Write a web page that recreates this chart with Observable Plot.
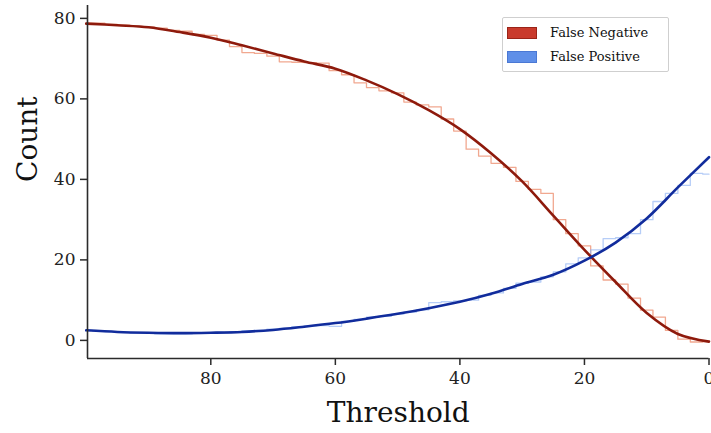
<!DOCTYPE html>
<html>
<head>
<meta charset="utf-8">
<script src="https://cdn.jsdelivr.net/npm/d3@7"></script>
<script src="https://cdn.jsdelivr.net/npm/@observablehq/plot@0.6"></script>
<style>
  html, body { margin: 0; padding: 0; background: #fff; }
  #wrap { position: relative; width: 711px; height: 433px; overflow: hidden; }
  #legend { position: absolute; left: 502px; top: 17px; width: 165px; height: 53px;
    border: 1.5px solid #cfcfcf; border-radius: 2px; background: #fff;
    font-family: "DejaVu Serif", serif; font-size: 13px; color: #111; }
  .row { position: absolute; left: 4px; display: flex; align-items: center; }
  .patch { width: 30px; height: 12px; margin-right: 13px; box-sizing: border-box; }
</style>
</head>
<body>
<div id="wrap"><div id="chart"></div><div id="legend"></div></div>
<script>
// categories
const seriesNames = ["False Negative", "False Positive"];
const xTicks = [80, 60, 40, 20, 0];
const yTicks = [0, 20, 40, 60, 80];
const xDomain = [99.8, 0];
const yDomain = [-4.5, 83.2];

// smooth fitted curves (threshold every 5)
const smoothX = [100, 95, 90, 85, 80, 75, 70, 65, 60, 55, 50, 45, 40, 35, 30, 25, 20, 15, 10, 5, 0];
const fnSmooth = [78.7, 78.3, 77.8, 76.6, 75.2, 73.3, 71.3, 69.3, 67.5, 64.6, 61.2, 57.2, 52.5, 46.5, 39.5, 31.0, 22.5, 14.5, 6.8, 1.6, -0.3];
const fpSmooth = [2.5, 2.1, 1.9, 1.8, 1.9, 2.1, 2.6, 3.4, 4.3, 5.4, 6.6, 8.0, 9.6, 11.6, 14.0, 16.3, 19.8, 24.3, 30.3, 38.0, 45.5];

// raw (stepped) counts (threshold every 2)
const rawX = [100, 98, 96, 94, 92, 90, 88, 86, 84, 82, 80, 78, 76, 74, 72, 70, 68, 66, 64, 62, 60, 58, 56, 54, 52, 50, 48, 46, 44, 42, 40, 38, 36, 34, 32, 30, 28, 26, 24, 22, 20, 18, 16, 14, 12, 10, 8, 6, 4, 2, 0];
const fnRaw = [78.8, 78.8, 78.5, 78.3, 78.0, 77.8, 77.6, 77.0, 76.8, 76.0, 75.8, 74.6, 73.0, 71.5, 71.3, 70.6, 69.2, 69.1, 69.0, 68.9, 67.0, 66.0, 64.0, 62.8, 62.0, 61.5, 59.2, 58.5, 58.0, 55.0, 52.0, 47.5, 45.8, 44.0, 43.0, 39.5, 37.5, 36.5, 30.0, 26.5, 23.5, 18.5, 15.0, 14.0, 10.5, 7.5, 5.8, 2.5, 0.3, -0.4, -0.3];
const fpRaw = [2.5, 2.4, 2.2, 2.0, 1.9, 1.8, 1.6, 1.6, 1.6, 1.8, 1.9, 2.0, 2.1, 2.4, 2.5, 2.8, 3.0, 3.4, 3.6, 3.7, 3.5, 4.7, 5.2, 5.8, 6.0, 6.5, 7.0, 7.6, 9.4, 9.6, 9.8, 10.0, 11.2, 11.8, 12.9, 14.2, 14.5, 15.8, 17.0, 19.0, 20.5, 22.5, 25.3, 25.5, 26.5, 30.0, 34.5, 36.5, 38.5, 41.5, 41.3];

const smoothColors = ["#8e1a0c", "#112c9c"];
const rawColors = ["#ea7a55", "#8fb2f2"];
const patchFill = ["#c93a2c", "#5f8fe8"];
const patchEdge = ["#9a2418", "#4a78d4"];

const smooth = [];
smoothX.forEach((x, i) => {
  smooth.push({x, y: fnSmooth[i], s: seriesNames[0]});
});
smoothX.forEach((x, i) => {
  smooth.push({x, y: fpSmooth[i], s: seriesNames[1]});
});
const raw = [];
rawX.forEach((x, i) => raw.push({x, y: fnRaw[i], s: seriesNames[0]}));
rawX.forEach((x, i) => raw.push({x, y: fpRaw[i], s: seriesNames[1]}));

const spine = "#2b2b2b";
const chart = Plot.plot({
  width: 711,
  height: 433,
  marginLeft: 87,
  marginRight: 2.5,
  marginTop: 5,
  marginBottom: 75,
  style: { fontFamily: "DejaVu Serif, serif", fontSize: "17px", color: "#222", background: "#fff" },
  x: { domain: xDomain, ticks: xTicks, tickSize: 7, tickPadding: 6, label: null },
  y: { domain: yDomain, ticks: yTicks, tickSize: 7, tickPadding: 5, label: null },
  color: { domain: seriesNames, range: smoothColors },
  marks: [
    Plot.line(raw, { x: "x", y: "y", z: "s", stroke: d => rawColors[seriesNames.indexOf(d.s)], strokeWidth: 1.3, strokeOpacity: 0.65, curve: "step" }),
    Plot.line(smooth, { x: "x", y: "y", z: "s", stroke: d => smoothColors[seriesNames.indexOf(d.s)], strokeWidth: 2.6, curve: "catmull-rom" }),
    Plot.ruleX([xDomain[0]], { stroke: spine, strokeWidth: 1.6 }),
    Plot.ruleY([yDomain[0]], { stroke: spine, strokeWidth: 1.6 }),
    Plot.axisX({ ticks: xTicks, tickSize: 7, tickPadding: 6, stroke: spine, strokeWidth: 1.5, label: null, fill: "#222" }),
    Plot.axisY({ ticks: yTicks, tickSize: 7, tickPadding: 5, stroke: spine, strokeWidth: 1.5, label: null, fill: "#222" }),
    Plot.text(["Threshold"], { frameAnchor: "bottom", dy: 63, fontSize: 28, fill: "#111" }),
    Plot.text(["Count"], { frameAnchor: "left", dx: -59, rotate: -90, fontSize: 28, fill: "#111" })
  ]
});
document.getElementById("chart").appendChild(chart);

const legend = document.getElementById("legend");
seriesNames.forEach((name, i) => {
  const row = document.createElement("div");
  row.className = "row";
  row.style.top = (i === 0 ? 7 : 31) + "px";
  const p = document.createElement("div");
  p.className = "patch";
  p.style.background = patchFill[i];
  p.style.border = "1.5px solid " + patchEdge[i];
  const t = document.createElement("span");
  t.textContent = name;
  row.appendChild(p);
  row.appendChild(t);
  legend.appendChild(row);
});
</script>
</body>
</html>
